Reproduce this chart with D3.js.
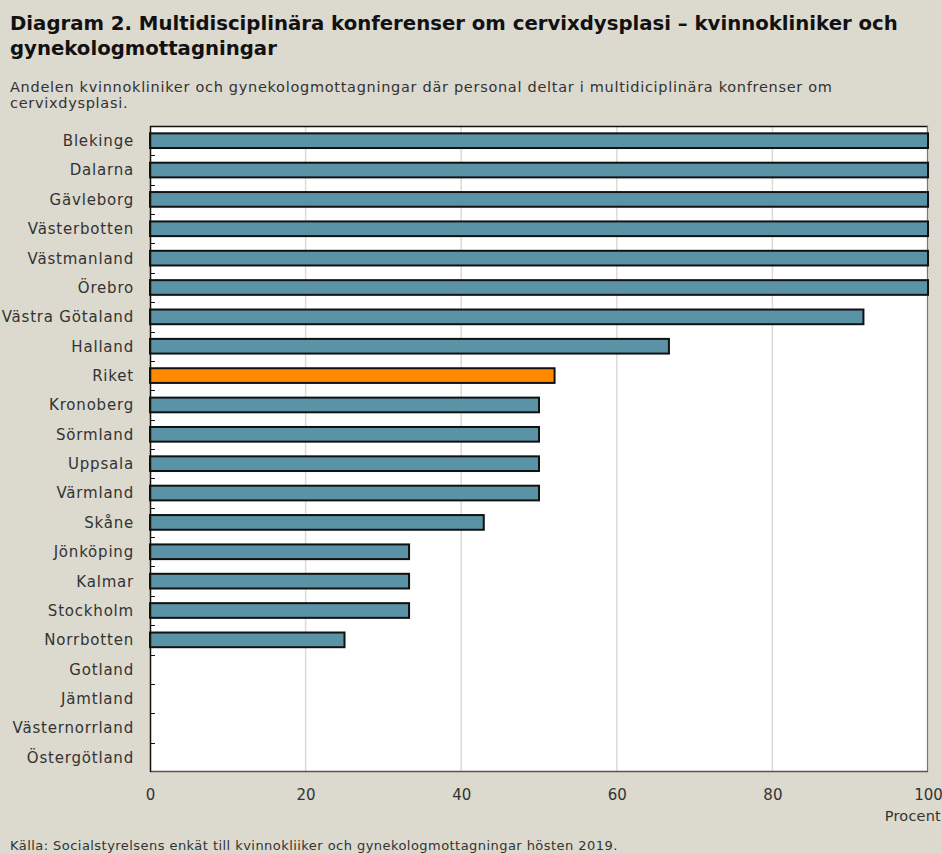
<!DOCTYPE html>
<html lang="sv">
<head>
<meta charset="utf-8">
<script src="https://cdn.jsdelivr.net/npm/d3@7"></script>
<style>
  html, body { margin: 0; padding: 0; background: #dcd9ce; }
  svg { display: block; }
  text { font-family: "DejaVu Sans", "Noto Sans", sans-serif; fill: #333; }
</style>
</head>
<body>
<svg id="chart" width="942" height="854"></svg>
<script>
// Län sorted by share, with the national figure (Riket) in its rank
const regions = [
  "Blekinge", "Dalarna", "Gävleborg", "Västerbotten", "Västmanland", "Örebro",
  "Västra Götaland", "Halland", "Riket", "Kronoberg", "Sörmland", "Uppsala",
  "Värmland", "Skåne", "Jönköping", "Kalmar", "Stockholm", "Norrbotten",
  "Gotland", "Jämtland", "Västernorrland", "Östergötland"
];
const shares = [
  100, 100, 100, 100, 100, 100,
  91.7, 66.7, 52, 50, 50, 50,
  50, 42.9, 33.3, 33.3, 33.3, 25,
  0, 0, 0, 0
];
const xTicks = [0, 20, 40, 60, 80, 100];

const titleLines = [
  "Diagram 2. Multidisciplinära konferenser om cervixdysplasi – kvinnokliniker och",
  "gynekologmottagningar"
];
const subtitleLines = [
  "Andelen kvinnokliniker och gynekologmottagningar där personal deltar i multidiciplinära konfrenser om",
  "cervixdysplasi."
];
const sourceText = "Källa: Socialstyrelsens enkät till kvinnokliiker och gynekologmottagningar hösten 2019.";
const unitLabel = "Procent";

const svg = d3.select("#chart");
const plot = { left: 150, right: 928, top: 126, bottom: 772 };

const x = d3.scaleLinear().domain([0, 100]).range([plot.left, plot.right]);
const y = d3.scaleBand().domain(regions).range([plot.top, plot.bottom]).paddingInner(0.5).paddingOuter(0.25);

// Headings
svg.append("g").selectAll("text").data(titleLines).join("text")
  .attr("x", 10).attr("y", (d, i) => 30 + i * 25)
  .style("font-size", "19.7px").style("font-weight", "bold").style("fill", "#111")
  .text(d => d);

svg.append("g").selectAll("text").data(subtitleLines).join("text")
  .attr("x", 10).attr("y", (d, i) => 92 + i * 16)
  .style("font-size", "14.5px").style("letter-spacing", "0.7px").style("fill", "#333")
  .text(d => d);

// Plot background
svg.append("rect")
  .attr("x", plot.left).attr("y", plot.top)
  .attr("width", plot.right - plot.left).attr("height", plot.bottom - plot.top)
  .attr("fill", "#fff");

// Vertical gridlines
svg.append("g").selectAll("line").data(xTicks.filter(t => t > 0 && t < 100)).join("line")
  .attr("x1", d => x(d)).attr("x2", d => x(d))
  .attr("y1", plot.top).attr("y2", plot.bottom)
  .attr("stroke", "#dedbd2").attr("stroke-width", 1.5);

// Frame
svg.append("line").attr("x1", plot.left).attr("x2", plot.right)
  .attr("y1", plot.top + 0.5).attr("y2", plot.top + 0.5).attr("stroke", "#111").attr("stroke-width", 1.5);
svg.append("line").attr("x1", plot.right - 0.5).attr("x2", plot.right - 0.5)
  .attr("y1", plot.top).attr("y2", plot.bottom).attr("stroke", "#777").attr("stroke-width", 1.2);
svg.append("line").attr("x1", plot.left).attr("x2", plot.right)
  .attr("y1", plot.bottom - 0.5).attr("y2", plot.bottom - 0.5).attr("stroke", "#555").attr("stroke-width", 1.5);

// Bars
svg.append("g").selectAll("rect").data(regions.map((r, i) => ({ r, v: shares[i] })).filter(d => d.v > 0)).join("rect")
  .attr("x", x(0)).attr("y", d => y(d.r))
  .attr("width", d => x(d.v) - x(0)).attr("height", y.bandwidth())
  .attr("fill", d => d.r === "Riket" ? "#ff8a00" : "#5b93a6")
  .attr("stroke", "#111").attr("stroke-width", 2);

// Category axis: ticks at band boundaries pointing into the plot
const step = y.step();
const boundaries = regions.slice(1).map(r => y(r) - step * y.paddingInner() / 2);
const yAxis = svg.append("g");
yAxis.append("g").selectAll("line").data(boundaries).join("line")
  .attr("x1", plot.left).attr("x2", plot.left + 5)
  .attr("y1", d => Math.round(d) + 0.5).attr("y2", d => Math.round(d) + 0.5)
  .attr("stroke", "#111").attr("stroke-width", 1);
yAxis.append("line").attr("x1", plot.left + 0.5).attr("x2", plot.left + 0.5)
  .attr("y1", plot.top).attr("y2", plot.bottom).attr("stroke", "#111").attr("stroke-width", 1.5);
yAxis.append("g").selectAll("text").data(regions).join("text")
  .attr("x", 134).attr("y", d => y(d) + y.bandwidth() / 2)
  .attr("dy", "0.36em").attr("text-anchor", "end")
  .style("font-size", "15px").style("letter-spacing", "0.8px").style("fill", "#333")
  .text(d => d);

// Value axis
const xAxis = svg.append("g").attr("transform", `translate(0,${plot.bottom + 17})`)
  .call(d3.axisBottom(x).tickValues(xTicks).tickSize(0).tickPadding(0));
xAxis.select(".domain").remove();
xAxis.selectAll("text").style("font-size", "15px").style("fill", "#333")
  .style("font-family", "\"DejaVu Sans\", sans-serif");

svg.append("text").attr("x", 941).attr("y", 821).attr("text-anchor", "end")
  .style("font-size", "14.5px").style("letter-spacing", "0.2px").style("fill", "#333").text(unitLabel);

svg.append("text").attr("x", 10).attr("y", 850)
  .style("font-size", "13px").style("letter-spacing", "0.45px").style("fill", "#333").text(sourceText);
</script>
</body>
</html>
